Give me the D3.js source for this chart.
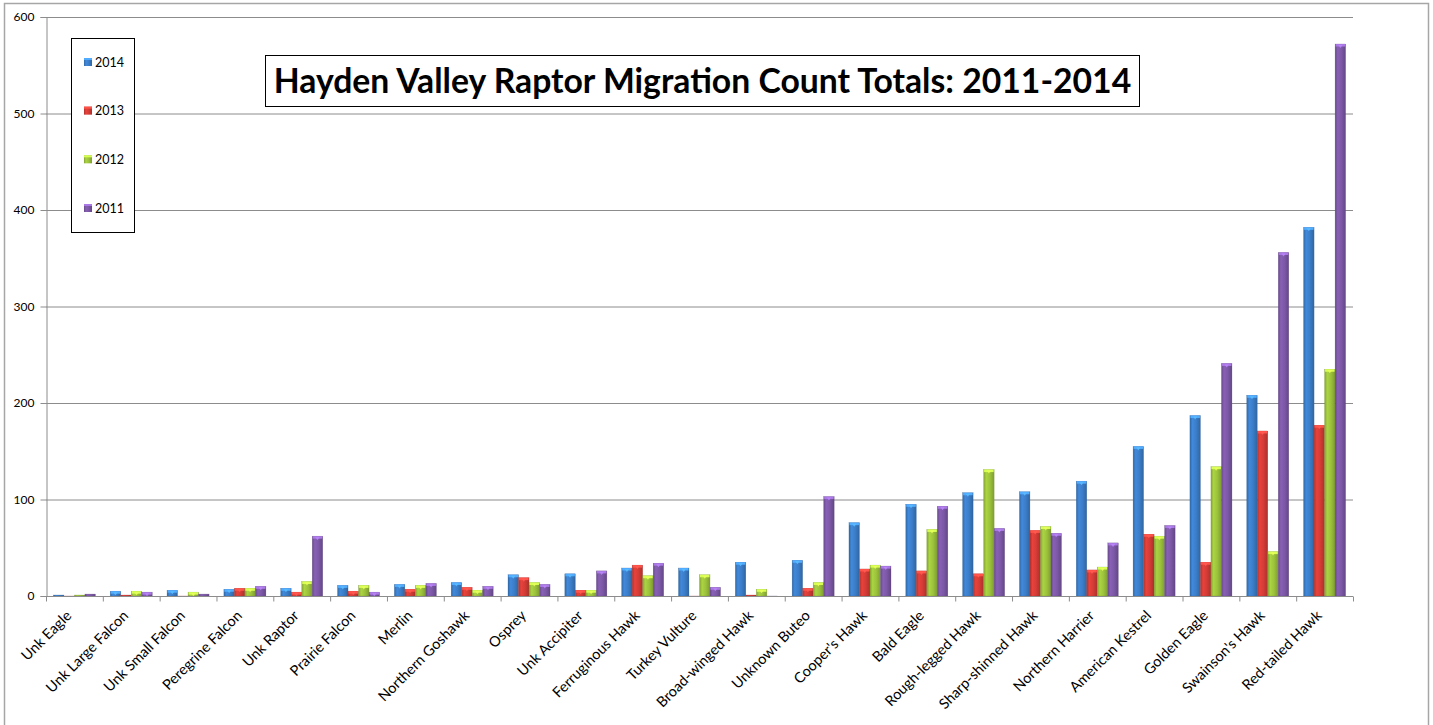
<!DOCTYPE html>
<html>
<head>
<meta charset="utf-8">
<script src="https://cdn.jsdelivr.net/npm/d3@7"></script>
<style>
  html, body { margin: 0; padding: 0; background: #fff; }
  svg { display: block; }
</style>
</head>
<body>
<svg id="chart" width="1433" height="725"></svg>
<script>
// Raptor species, ordered by total count
const categories = [
  "Unk Eagle", "Unk Large Falcon", "Unk Small Falcon", "Peregrine Falcon", "Unk Raptor",
  "Prairie Falcon", "Merlin", "Northern Goshawk", "Osprey", "Unk Accipiter",
  "Ferruginous Hawk", "Turkey Vulture", "Broad-winged Hawk", "Unknown Buteo", "Cooper's Hawk",
  "Bald Eagle", "Rough-legged Hawk", "Sharp-shinned Hawk", "Northern Harrier", "American Kestrel",
  "Golden Eagle", "Swainson's Hawk", "Red-tailed Hawk"
];
const seriesNames = ["2014", "2013", "2012", "2011"];
const counts2014 = [1, 5, 6, 7, 8, 11, 12, 14, 22, 23, 29, 29, 35, 37, 76, 95, 107, 108, 119, 155, 187, 208, 382];
const counts2013 = [0, 1, 0, 8, 4, 5, 7, 9, 19, 6, 32, 0, 1, 8, 28, 26, 23, 68, 27, 64, 35, 171, 177];
const counts2012 = [1, 5, 4, 8, 15, 11, 11, 6, 14, 6, 21, 22, 7, 14, 32, 69, 131, 72, 30, 62, 134, 46, 235];
const counts2011 = [2, 4, 2, 10, 62, 4, 13, 10, 12, 26, 34, 9, 0, 103, 31, 93, 70, 65, 55, 73, 241, 356, 572];
const yTicks = [0, 100, 200, 300, 400, 500, 600];
const chartTitle = "Hayden Valley Raptor Migration Count Totals: 2011-2014";

const seriesValues = [counts2014, counts2013, counts2012, counts2011];
const seriesColors = ["#3b7dc8", "#d43c36", "#9cc23c", "#7c58a6"];

const svg = d3.select("#chart");
const plot = { left: 46, right: 1353, top: 17, bottom: 596 };
const font = "Lato, 'Liberation Sans', sans-serif";

// outer chart border
svg.append("rect")
  .attr("x", 4.5).attr("y", 3.5).attr("width", 1424).attr("height", 740)
  .attr("fill", "#fff").attr("stroke", "#a6a6a6").attr("stroke-width", 1.5);

const x0 = d3.scaleBand().domain(categories).range([plot.left, plot.right]).paddingInner(0).paddingOuter(0);
const x1 = d3.scaleBand().domain(seriesNames)
  .range([x0.bandwidth() * 0.13, x0.bandwidth() * 0.87]).padding(0);
const y = d3.scaleLinear().domain([0, 600]).range([plot.bottom, plot.top]);

// gradients giving each bar a rounded, shaded look
const defs = svg.append("defs");
seriesColors.forEach((c, i) => {
  const base = d3.color(c);
  const g = defs.append("linearGradient").attr("id", "grad" + i)
    .attr("x1", "0%").attr("x2", "100%").attr("y1", "0%").attr("y2", "0%");
  g.append("stop").attr("offset", "0%").attr("stop-color", base.darker(0.5));
  g.append("stop").attr("offset", "25%").attr("stop-color", base.brighter(0.25));
  g.append("stop").attr("offset", "60%").attr("stop-color", base);
  g.append("stop").attr("offset", "100%").attr("stop-color", base.darker(0.6));
});

// gridlines
svg.append("g").selectAll("line").data(yTicks.filter(t => t > 0)).join("line")
  .attr("x1", plot.left).attr("x2", plot.right)
  .attr("y1", d => y(d) + 0.5).attr("y2", d => y(d) + 0.5)
  .attr("stroke", "#8c8c8c").attr("stroke-width", 1);

// y axis
const yAxis = svg.append("g").attr("transform", `translate(${plot.left + 0.5},0)`)
  .call(d3.axisLeft(y).tickValues(yTicks).tickSize(6).tickPadding(6));
yAxis.select(".domain").attr("stroke", "#8c8c8c");
yAxis.selectAll(".tick line").attr("stroke", "#8c8c8c");
yAxis.selectAll("text").attr("font-family", font).attr("font-size", 12).attr("fill", "#000");

// bars
const groups = svg.append("g").selectAll("g").data(categories).join("g")
  .attr("transform", d => `translate(${x0(d)},0)`);

groups.each(function(cat, ci) {
  const g = d3.select(this);
  seriesNames.forEach((s, si) => {
    const v = seriesValues[si][ci];
    const bx = x1(s), bw = x1.bandwidth();
    const top = y(v), h = plot.bottom - top;
    g.append("rect")
      .attr("x", bx).attr("y", top).attr("width", bw).attr("height", Math.max(h, 0.8))
      .attr("fill", `url(#grad${si})`)
      .attr("stroke", d3.color(seriesColors[si]).darker(0.8)).attr("stroke-width", 0.4)
      .attr("stroke-opacity", 0.6);
    if (h > 2) {
      // lighter top cap with small highlight notch
      g.append("rect")
        .attr("x", bx + 0.5).attr("y", top).attr("width", bw - 1).attr("height", 2.5)
        .attr("fill", d3.color(seriesColors[si]).brighter(0.9));
      g.append("path")
        .attr("d", `M${bx + bw * 0.3},${top + 1} L${bx + bw * 0.7},${top + 1} L${bx + bw * 0.5},${top + 4} Z`)
        .attr("fill", d3.color(seriesColors[si]).brighter(1.2)).attr("opacity", 0.8);
    }
  });
});

// x axis
const xAxis = svg.append("g").attr("transform", `translate(0,${plot.bottom + 0.5})`);
xAxis.append("line").attr("x1", plot.left).attr("x2", plot.right)
  .attr("stroke", "#8c8c8c");
const tickPositions = categories.map(c => x0(c)).concat([plot.right]);
xAxis.selectAll("line.tk").data(tickPositions).join("line").attr("class", "tk")
  .attr("x1", d => d + 0.5).attr("x2", d => d + 0.5).attr("y1", 0).attr("y2", 5)
  .attr("stroke", "#8c8c8c");
xAxis.selectAll("text").data(categories).join("text")
  .attr("transform", d => `translate(${x0(d) + x0.bandwidth() / 2 - 2},${20}) rotate(-45)`)
  .attr("text-anchor", "end")
  .attr("font-family", font).attr("font-size", 14.5).attr("fill", "#000")
  .text(d => d);

// legend
const legend = svg.append("g");
legend.append("rect").attr("x", 71.5).attr("y", 38.5).attr("width", 63).attr("height", 194)
  .attr("fill", "#fff").attr("stroke", "#000").attr("stroke-width", 1);
const legendY = d3.scalePoint().domain(seriesNames).range([62, 208]);
seriesNames.forEach((s, i) => {
  legend.append("rect").attr("x", 84).attr("y", legendY(s) - 4).attr("width", 8).attr("height", 8)
    .attr("fill", `url(#grad${i})`);
  legend.append("rect").attr("x", 84).attr("y", legendY(s) - 4).attr("width", 8).attr("height", 2)
    .attr("fill", d3.color(seriesColors[i]).brighter(0.9));
  legend.append("text").attr("x", 95).attr("y", legendY(s) + 4.5)
    .attr("font-family", font).attr("font-size", 12.5).attr("fill", "#000").text(s);
});

// title box
const titleBox = { x: 265.5, y: 55.5, w: 874, h: 51 };
svg.append("rect").attr("x", titleBox.x).attr("y", titleBox.y)
  .attr("width", titleBox.w).attr("height", titleBox.h)
  .attr("fill", "#fff").attr("stroke", "#000").attr("stroke-width", 1);
const title = svg.append("text")
  .attr("x", titleBox.x + titleBox.w / 2).attr("y", titleBox.y + 37)
  .attr("text-anchor", "middle")
  .attr("font-family", font).attr("font-weight", "bold").attr("font-size", 32)
  .attr("fill", "#000").text(chartTitle);
// fit the title to the box width
const tw = title.node().getComputedTextLength();
const target = 858;
title.attr("font-size", 32 * target / tw);
</script>
</body>
</html>
